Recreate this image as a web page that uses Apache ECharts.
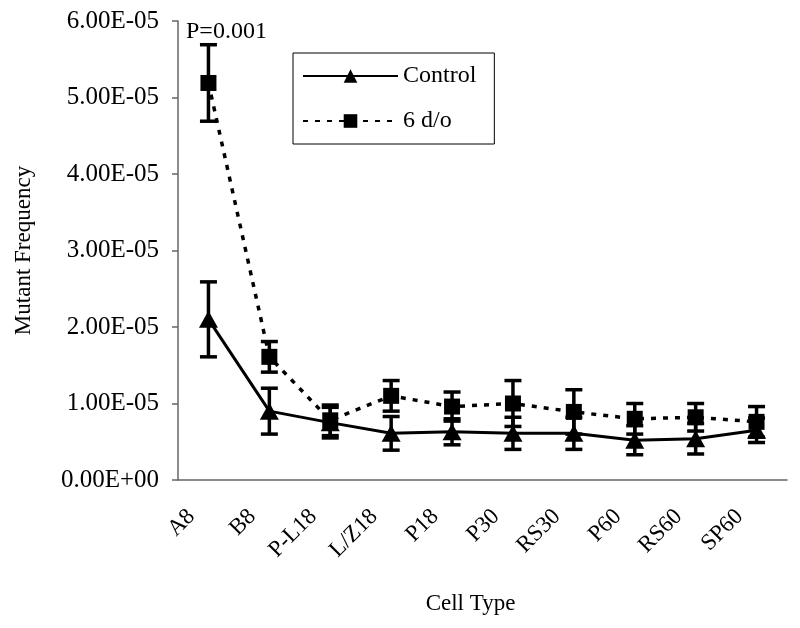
<!DOCTYPE html>
<html>
<head>
<meta charset="utf-8">
<script src="https://cdn.jsdelivr.net/npm/echarts@6/dist/echarts.min.js"></script>
<style>html,body{margin:0;padding:0;background:#fff}#c{width:800px;height:628px}</style>
</head>
<body>
<div id="c"></div>
<script>
var categories = ['A8','B8','P-L18','L/Z18','P18','P30','RS30','P60','RS60','SP60'];
var controlMean = [2.10e-5, 0.90e-5, 0.75e-5, 0.61e-5, 0.63e-5, 0.61e-5, 0.61e-5, 0.52e-5, 0.54e-5, 0.65e-5];
var controlErr  = [0.49e-5, 0.30e-5, 0.20e-5, 0.22e-5, 0.17e-5, 0.21e-5, 0.21e-5, 0.19e-5, 0.20e-5, 0.16e-5];
var doMean = [5.19e-5, 1.61e-5, 0.78e-5, 1.10e-5, 0.96e-5, 1.00e-5, 0.89e-5, 0.80e-5, 0.82e-5, 0.76e-5];
var doErr  = [0.50e-5, 0.20e-5, 0.20e-5, 0.20e-5, 0.19e-5, 0.30e-5, 0.29e-5, 0.20e-5, 0.18e-5, 0.20e-5];
var yTickLabels = ['0.00E+00','1.00E-05','2.00E-05','3.00E-05','4.00E-05','5.00E-05','6.00E-05'];
var seriesNames = ['Control','6 d/o'];
var annotation = 'P=0.001';

var FONT = 'Liberation Serif';

function errData(mean, err) {
  return mean.map(function (m, i) { return [i, m - err[i], m + err[i]]; });
}
function errRender(params, api) {
  var x = api.value(0);
  var lo = api.coord([x, api.value(1)]);
  var hi = api.coord([x, api.value(2)]);
  var hw = 8.5;
  var st = { stroke: '#000', lineWidth: 3.5 };
  return {
    type: 'group',
    children: [
      { type: 'line', shape: { x1: lo[0], y1: lo[1], x2: hi[0], y2: hi[1] }, style: st },
      { type: 'line', shape: { x1: hi[0] - hw, y1: hi[1], x2: hi[0] + hw, y2: hi[1] }, style: st },
      { type: 'line', shape: { x1: lo[0] - hw, y1: lo[1], x2: lo[0] + hw, y2: lo[1] }, style: st }
    ]
  };
}

var chart = echarts.init(document.getElementById('c'));
chart.setOption({
  animation: false,
  backgroundColor: '#fff',
  title: {
    text: annotation, left: 186, top: 20, padding: 0,
    textStyle: { fontFamily: FONT, fontSize: 24, fontWeight: 'normal', color: '#000' }
  },
  grid: { left: 178, right: 13, top: 21, bottom: 148 },
  legend: {
    left: 293, top: 53,
    orient: 'vertical',
    borderColor: '#000', borderWidth: 1,
    padding: [11, 18, 11, 9],
    itemGap: 21,
    itemWidth: 95, itemHeight: 17,
    data: seriesNames,
    textStyle: { fontFamily: FONT, fontSize: 24, color: '#000' }
  },
  xAxis: {
    type: 'category',
    data: categories,
    boundaryGap: true,
    name: 'Cell Type',
    nameLocation: 'middle',
    nameGap: 112,
    nameTextStyle: { fontFamily: FONT, fontSize: 23, color: '#000', padding: [0, 24, 0, 0] },
    axisLine: { lineStyle: { color: '#666', width: 1.5 } },
    axisTick: { show: false },
    axisLabel: {
      rotate: 45, margin: 16, fontFamily: FONT, fontSize: 23, color: '#000', interval: 0,
      padding: [0, 24, 0, 0]
    }
  },
  yAxis: {
    type: 'value',
    min: 0, max: 6e-5, interval: 1e-5,
    name: 'Mutant Frequency',
    nameLocation: 'middle',
    nameGap: 143,
    nameTextStyle: { fontFamily: FONT, fontSize: 23, color: '#000' },
    splitLine: { show: false },
    axisLine: { show: true, lineStyle: { color: '#666', width: 1.5 } },
    axisTick: { show: true, length: 6, lineStyle: { color: '#666', width: 1.5 } },
    axisLabel: {
      margin: 19, fontFamily: FONT, fontSize: 25, color: '#000',
      formatter: function (v) { return yTickLabels[Math.round(v / 1e-5)]; }
    }
  },
  series: [
    {
      name: seriesNames[0], type: 'line', data: controlMean,
      symbol: 'triangle', symbolSize: [19, 17],
      itemStyle: { color: '#000' },
      lineStyle: { color: '#000', width: 3, type: 'solid' },
      z: 3
    },
    {
      name: seriesNames[1], type: 'line', data: doMean,
      symbol: 'rect', symbolSize: 16,
      itemStyle: { color: '#000' },
      lineStyle: { color: '#000', width: 3.5, type: [5, 7] },
      z: 3
    },
    {
      type: 'custom', name: 'ctrlErr', data: errData(controlMean, controlErr),
      renderItem: errRender, z: 4, silent: true
    },
    {
      type: 'custom', name: 'doErr', data: errData(doMean, doErr),
      renderItem: errRender, z: 4, silent: true
    }
  ]
});
</script>
</body>
</html>
